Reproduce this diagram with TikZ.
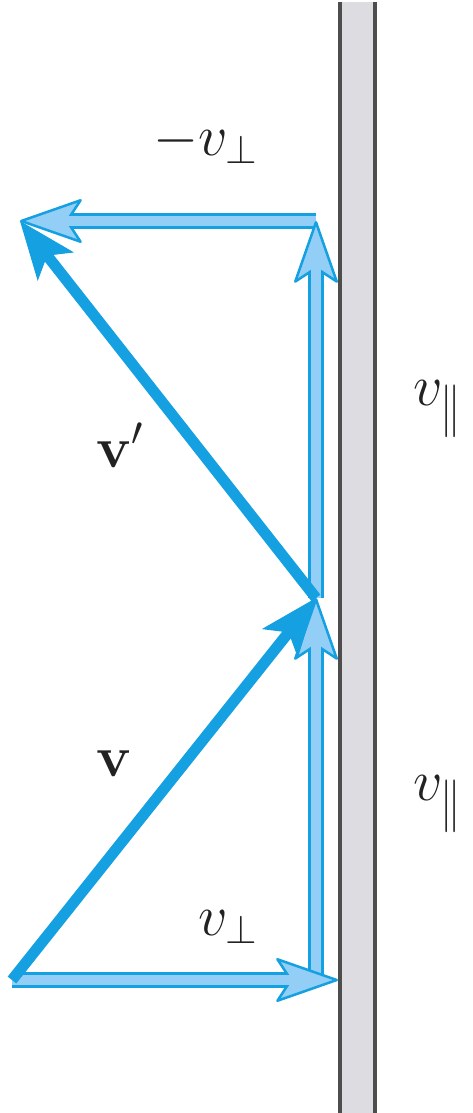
\documentclass[tikz,border=0pt]{standalone}
\usepackage{fix-cm}
\usepackage{tikz}
\usetikzlibrary{arrows.meta}
\definecolor{vec}{HTML}{14A0E1}
\definecolor{comp}{HTML}{92CEF5}
\definecolor{wallfill}{HTML}{DCDCE1}
\definecolor{wallink}{HTML}{4D4D4D}
\definecolor{ink}{HTML}{222222}
\newcommand{\tallpar}{\scalebox{1}[1.3]{$\scriptstyle\parallel$}}
\tikzset{
  every node/.style={font=\fontsize{58}{70}\selectfont,text=ink,inner sep=0pt},
  vecarrow/.style={draw=vec,line width=11pt,-{Stealth[length=58pt,width=46pt,inset=14pt,line width=1pt]}},
  comparrow/.style={draw=vec,line width=16pt,-{Stealth[length=66pt,width=46pt,inset=15pt,fill=comp,line width=2.5pt,round]},
    postaction={draw=comp,line width=9.5pt,-,shorten >=32pt}},
  wallside/.style={draw=wallink,line width=4pt},
  lbl/.style={anchor=base west},
}
\begin{document}
\begin{tikzpicture}[x=1pt,y=-1pt]
\useasboundingbox (0,0) rectangle (472,1113);

\fill[wallfill] (340,2) rectangle (375,1113);
\draw[wallside] (340,2) -- (340,1113);
\draw[wallside] (375,2) -- (375,1113);

\coordinate (o) at (12,980);
\coordinate (c) at (316,980);
\coordinate (w) at (338,980);
\coordinate (m) at (316,598);
\coordinate (t) at (316,221);
\coordinate (l) at (20,221);

\draw[comparrow] (t) -- (l);
\draw[comparrow] (m) -- (t);
\draw[comparrow] (c) -- (m);
\draw[comparrow] (o) -- (w);
\draw[vecarrow] (o) -- (m);
\draw[vecarrow] (m) -- (l);

\node[lbl] (nperp) at (153,155) {$-v_\perp$};
\node[lbl] (parup) at (413,405) {$v_{\tallpar}$};
\node[lbl] (parlow) at (413,800) {$v_{\tallpar}$};
\node[lbl] (perp) at (198,935) {$v_\perp$};
\node[lbl] (vprime) at (96,467) {$\mathbf{v}'$};
\node[lbl] (vin) at (96,776) {$\mathbf{v}$};

\end{tikzpicture}
\end{document}
